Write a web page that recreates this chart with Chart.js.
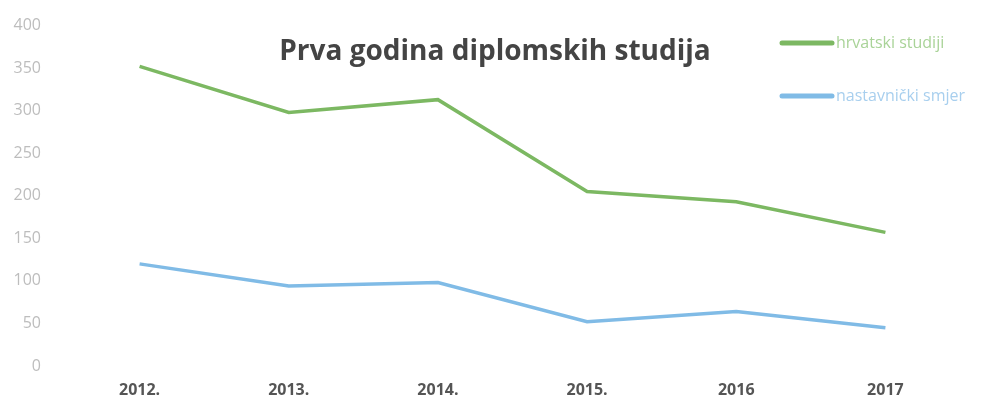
<!DOCTYPE html>
<html>
<head>
<meta charset="utf-8">
<script src="https://cdn.jsdelivr.net/npm/chart.js@4"></script>
<style>
  html, body { margin: 0; padding: 0; background: #fff; }
  #wrap { width: 986px; height: 401px; position: relative; }
</style>
</head>
<body>
<div id="wrap"><canvas id="chart"></canvas></div>
<script>
const chartTitle = "Prva godina diplomskih studija";
const years = ["2012.", "2013.", "2014.", "2015.", "2016", "2017"];
const hrvatskiStudiji = [352, 298, 313, 205, 193, 157];
const nastavnickiSmjer = [120, 94, 98, 52, 64, 45];
const seriesLabels = ["hrvatski studiji", "nastavnički smjer"];
const yTicks = [0, 50, 100, 150, 200, 250, 300, 350, 400];

// title + legend drawn inside the plot area, like the original
const overlay = {
  id: "overlay",
  afterDraw(chart) {
    const c = chart.ctx;
    c.save();
    c.fillStyle = "#444";
    c.font = "bold 28px 'Open Sans', sans-serif";
    c.textAlign = "center";
    c.textBaseline = "middle";
    c.fillText(chartTitle, 495, 52);

    c.textAlign = "left";
    c.font = "16px 'Open Sans', sans-serif";
    chart.data.datasets.forEach((ds, i) => {
      const y = 43 + i * 53;
      c.strokeStyle = ds.borderColor;
      c.lineWidth = 5;
      c.lineCap = "round";
      c.beginPath();
      c.moveTo(782, y);
      c.lineTo(832, y);
      c.stroke();
      c.fillStyle = ds.legendText;
      c.fillText(ds.label, 836, y);
    });
    c.restore();
  }
};

new Chart(document.getElementById("chart"), {
  type: "line",
  data: {
    labels: years,
    datasets: [
      {
        label: seriesLabels[0],
        data: hrvatskiStudiji,
        borderColor: "#7cb862",
        legendText: "#a9d398",
        borderWidth: 3.5,
        pointRadius: 0,
        tension: 0,
      },
      {
        label: seriesLabels[1],
        data: nastavnickiSmjer,
        borderColor: "#80bbe6",
        legendText: "#a8cfee",
        borderWidth: 3.5,
        pointRadius: 0,
        tension: 0,
      },
    ],
  },
  options: {
    responsive: true,
    maintainAspectRatio: false,
    animation: false,
    layout: { padding: { left: 0, right: 26, top: 17, bottom: 0 } },
    plugins: {
      legend: { display: false },
      tooltip: { enabled: false },
    },
    scales: {
      y: {
        min: 0,
        max: 400,
        afterBuildTicks: (axis) => { axis.ticks = yTicks.map((v) => ({ value: v })); },
        afterFit: (axis) => { axis.width = 65; },
        grid: { display: false },
        border: { display: false },
        ticks: {
          color: "#bdbdbd",
          padding: 16,
          font: { family: "'Open Sans', sans-serif", size: 16 },
        },
      },
      x: {
        offset: true,
        afterFit: (axis) => { axis.height = 35; },
        grid: { display: false },
        border: { display: false },
        ticks: {
          color: "#555",
          padding: 7,
          font: { family: "'Open Sans', sans-serif", size: 16, weight: "bold" },
        },
      },
    },
  },
  plugins: [overlay],
});
</script>
</body>
</html>
